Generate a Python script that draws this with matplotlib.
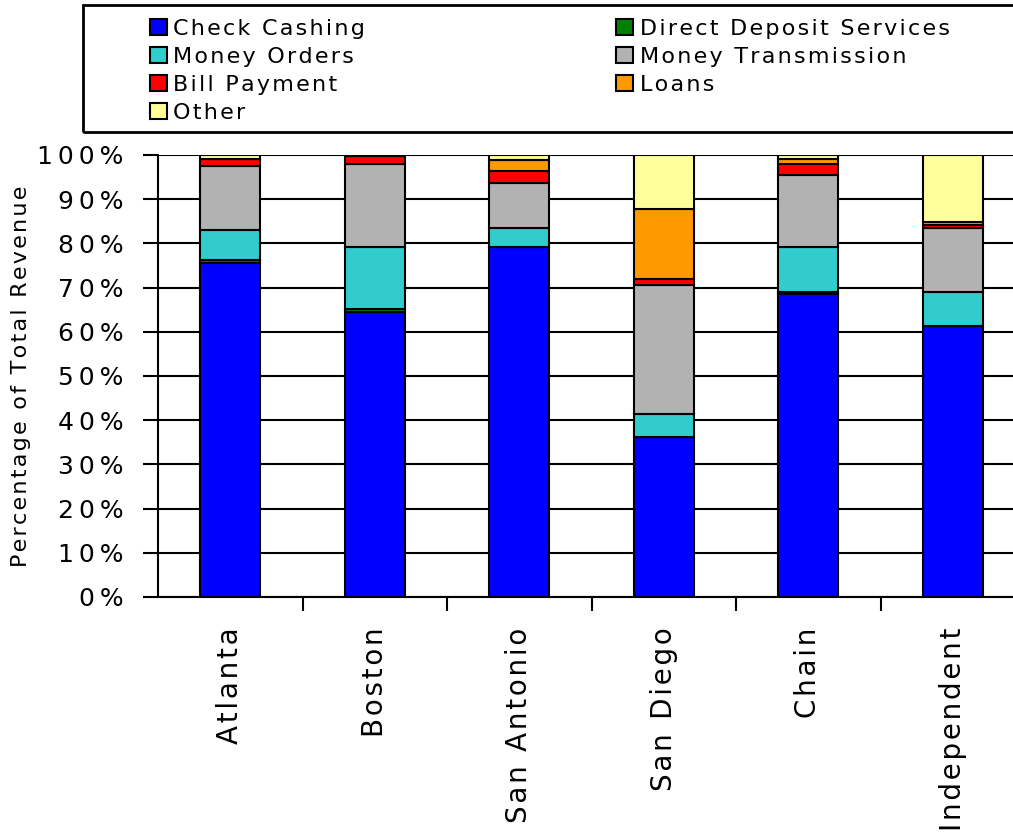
import numpy as np
import matplotlib
matplotlib.use("Agg")
import matplotlib.pyplot as plt
from matplotlib.patches import Patch, Rectangle

plt.rcParams['font.family'] = ['DejaVu Sans']

cities = ['Atlanta', 'Boston', 'San Antonio', 'San Diego', 'Chain', 'Independent']

# percent of total revenue, bottom to top
check_cashing = [75.6, 64.5, 79.2, 36.2, 68.6, 61.3]
direct_deposit = [0.7, 0.6, 0.0, 0.0, 0.5, 0.0]
money_orders = [6.8, 14.0, 4.3, 5.2, 10.0, 7.7]
money_transmission = [14.3, 18.8, 10.2, 29.2, 16.3, 14.5]
bill_payment = [1.8, 1.8, 2.7, 1.4, 2.5, 0.7]
loans = [0.0, 0.0, 2.5, 15.8, 1.1, 0.7]
other = [0.8, 0.3, 1.1, 12.2, 1.0, 15.1]

series = [
    ('Check Cashing', check_cashing, '#0000FF'),
    ('Direct Deposit Services', direct_deposit, '#008000'),
    ('Money Orders', money_orders, '#33CCCC'),
    ('Money Transmission', money_transmission, '#B2B2B2'),
    ('Bill Payment', bill_payment, '#FF0000'),
    ('Loans', loans, '#FF9900'),
    ('Other', other, '#FFFF99'),
]


def spaced(s, gap='\u200a'):
    # mimic the wide letter spacing of the original
    return gap.join(s)


fig = plt.figure(figsize=(10.13, 8.33), dpi=100)
ax = fig.add_axes([158 / 1013, 1 - 597 / 833, 867 / 1013, 442 / 833])

x = np.arange(len(cities))
bottom = np.zeros(len(cities))
handles = {}
for name, vals, color in series:
    vals = np.array(vals)
    ax.bar(x, vals, 0.415, bottom=bottom, color=color, edgecolor='black',
           linewidth=1.5, zorder=3)
    bottom += vals
    handles[name] = Patch(facecolor=color, edgecolor='black', linewidth=1.5)

ax.set_xlim(-0.5, len(cities) - 0.5)
ax.set_ylim(0, 100)
ax.set_yticks(np.arange(0, 101, 10))
ax.set_yticklabels([spaced(f'{v}%', '\u2009') for v in range(0, 101, 10)], fontsize=18)
ax.yaxis.grid(True, color='black', linewidth=1.5, zorder=1)
ax.tick_params(axis='y', length=11, width=1.5, pad=14)

ax.set_xticks(x)
ax.set_xticklabels([spaced(c) for c in cities], rotation=90, fontsize=20, va='top')
ax.tick_params(axis='x', which='major', length=0, pad=22)
ax.set_xticks(np.arange(0.5, len(cities) - 0.5, 1), minor=True)
ax.tick_params(axis='x', which='minor', length=10, width=1.5, direction='out')

for side in ['top', 'right']:
    ax.spines[side].set_visible(False)
for side in ['left', 'bottom']:
    ax.spines[side].set_linewidth(1.5)

ax.set_ylabel(spaced('Percentage of Total Revenue'), fontsize=16)
ax.yaxis.set_label_coords(-0.147, 0.5)

order = ['Check Cashing', 'Money Orders', 'Bill Payment', 'Other',
         'Direct Deposit Services', 'Money Transmission', 'Loans']
fig.legend([handles[n] for n in order], [spaced(n) for n in order],
           ncol=2, frameon=False, loc='upper left',
           bbox_to_anchor=(150 / 1013, 1 - 19 / 833),
           fontsize=16, handlelength=0.75, handleheight=0.75,
           handletextpad=0.3, labelspacing=0.36, columnspacing=11.3,
           borderpad=0, borderaxespad=0)
fig.patches.append(Rectangle((83 / 1013, 1 - 132 / 833), 940 / 1013, 127 / 833,
                             transform=fig.transFigure, fill=False,
                             edgecolor='black', linewidth=2))

fig.savefig('out.png', dpi=100)
